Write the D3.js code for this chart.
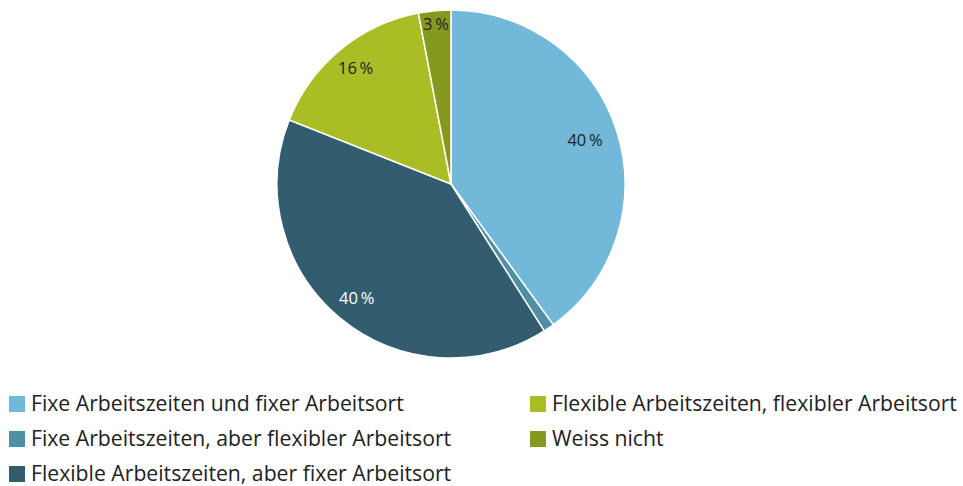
<!DOCTYPE html>
<html>
<head>
<meta charset="utf-8">
<script src="https://cdn.jsdelivr.net/npm/d3@7"></script>
<style>
  body { margin: 0; background: #fff; }
  svg { display: block; font-family: "Open Sans", "Noto Sans", sans-serif; }
</style>
</head>
<body>
<svg id="chart"></svg>
<script>
const width = 963;
const height = 486;

// data
const categories = [
  "Fixe Arbeitszeiten und fixer Arbeitsort",
  "Fixe Arbeitszeiten, aber flexibler Arbeitsort",
  "Flexible Arbeitszeiten, aber fixer Arbeitsort",
  "Flexible Arbeitszeiten, flexibler Arbeitsort",
  "Weiss nicht"
];
const values = [40, 1, 40, 16, 3];
const showLabel = [true, false, true, true, true];

const colors = ["#72b8d8", "#4e8fa5", "#325d6e", "#abbd25", "#86991f"];
const labelColors = ["#222", "#222", "#fff", "#222", "#222"];
// label distance from centre as fraction of radius
const labelPos = [0.81, 0.8, 0.85, 0.86, 0.92];

const svg = d3.select("#chart")
  .attr("width", width)
  .attr("height", height);

const cx = 451, cy = 184, radius = 174;

const pie = d3.pie().sort(null).value(d => d.value);
const data = categories.map((c, i) => ({ name: c, value: values[i], i }));
const arcs = pie(data);

const arc = d3.arc().innerRadius(0).outerRadius(radius);

const g = svg.append("g").attr("transform", `translate(${cx},${cy})`);

g.selectAll("path.slice")
  .data(arcs)
  .enter()
  .append("path")
  .attr("class", "slice")
  .attr("d", arc)
  .attr("fill", d => colors[d.data.i])
  .attr("stroke", "#fff")
  .attr("stroke-width", 1.5);

g.selectAll("text.pct")
  .data(arcs.filter(d => showLabel[d.data.i]))
  .enter()
  .append("text")
  .attr("class", "pct")
  .attr("transform", d => {
    const r = radius * labelPos[d.data.i];
    const a = (d.startAngle + d.endAngle) / 2;
    return `translate(${Math.sin(a) * r},${-Math.cos(a) * r})`;
  })
  .attr("text-anchor", "middle")
  .attr("dy", "0.35em")
  .attr("font-size", 16.5)
  .attr("fill", d => labelColors[d.data.i])
  .text(d => d.data.value + "\u2009%");

// legend, two columns
const legendCols = [[0, 1, 2], [3, 4]];
const colX = [9, 530];
const rowY = [404, 439, 474];

legendCols.forEach((col, ci) => {
  col.forEach((idx, ri) => {
    const lg = svg.append("g")
      .attr("transform", `translate(${colX[ci]},${rowY[ri]})`);
    lg.append("rect")
      .attr("x", 0)
      .attr("y", -8)
      .attr("width", 16)
      .attr("height", 16)
      .attr("fill", colors[idx]);
    lg.append("text")
      .attr("x", 22)
      .attr("dy", "0.35em")
      .attr("font-size", 21.2)
      .attr("fill", "#222")
      .text(categories[idx]);
  });
});
</script>
</body>
</html>
